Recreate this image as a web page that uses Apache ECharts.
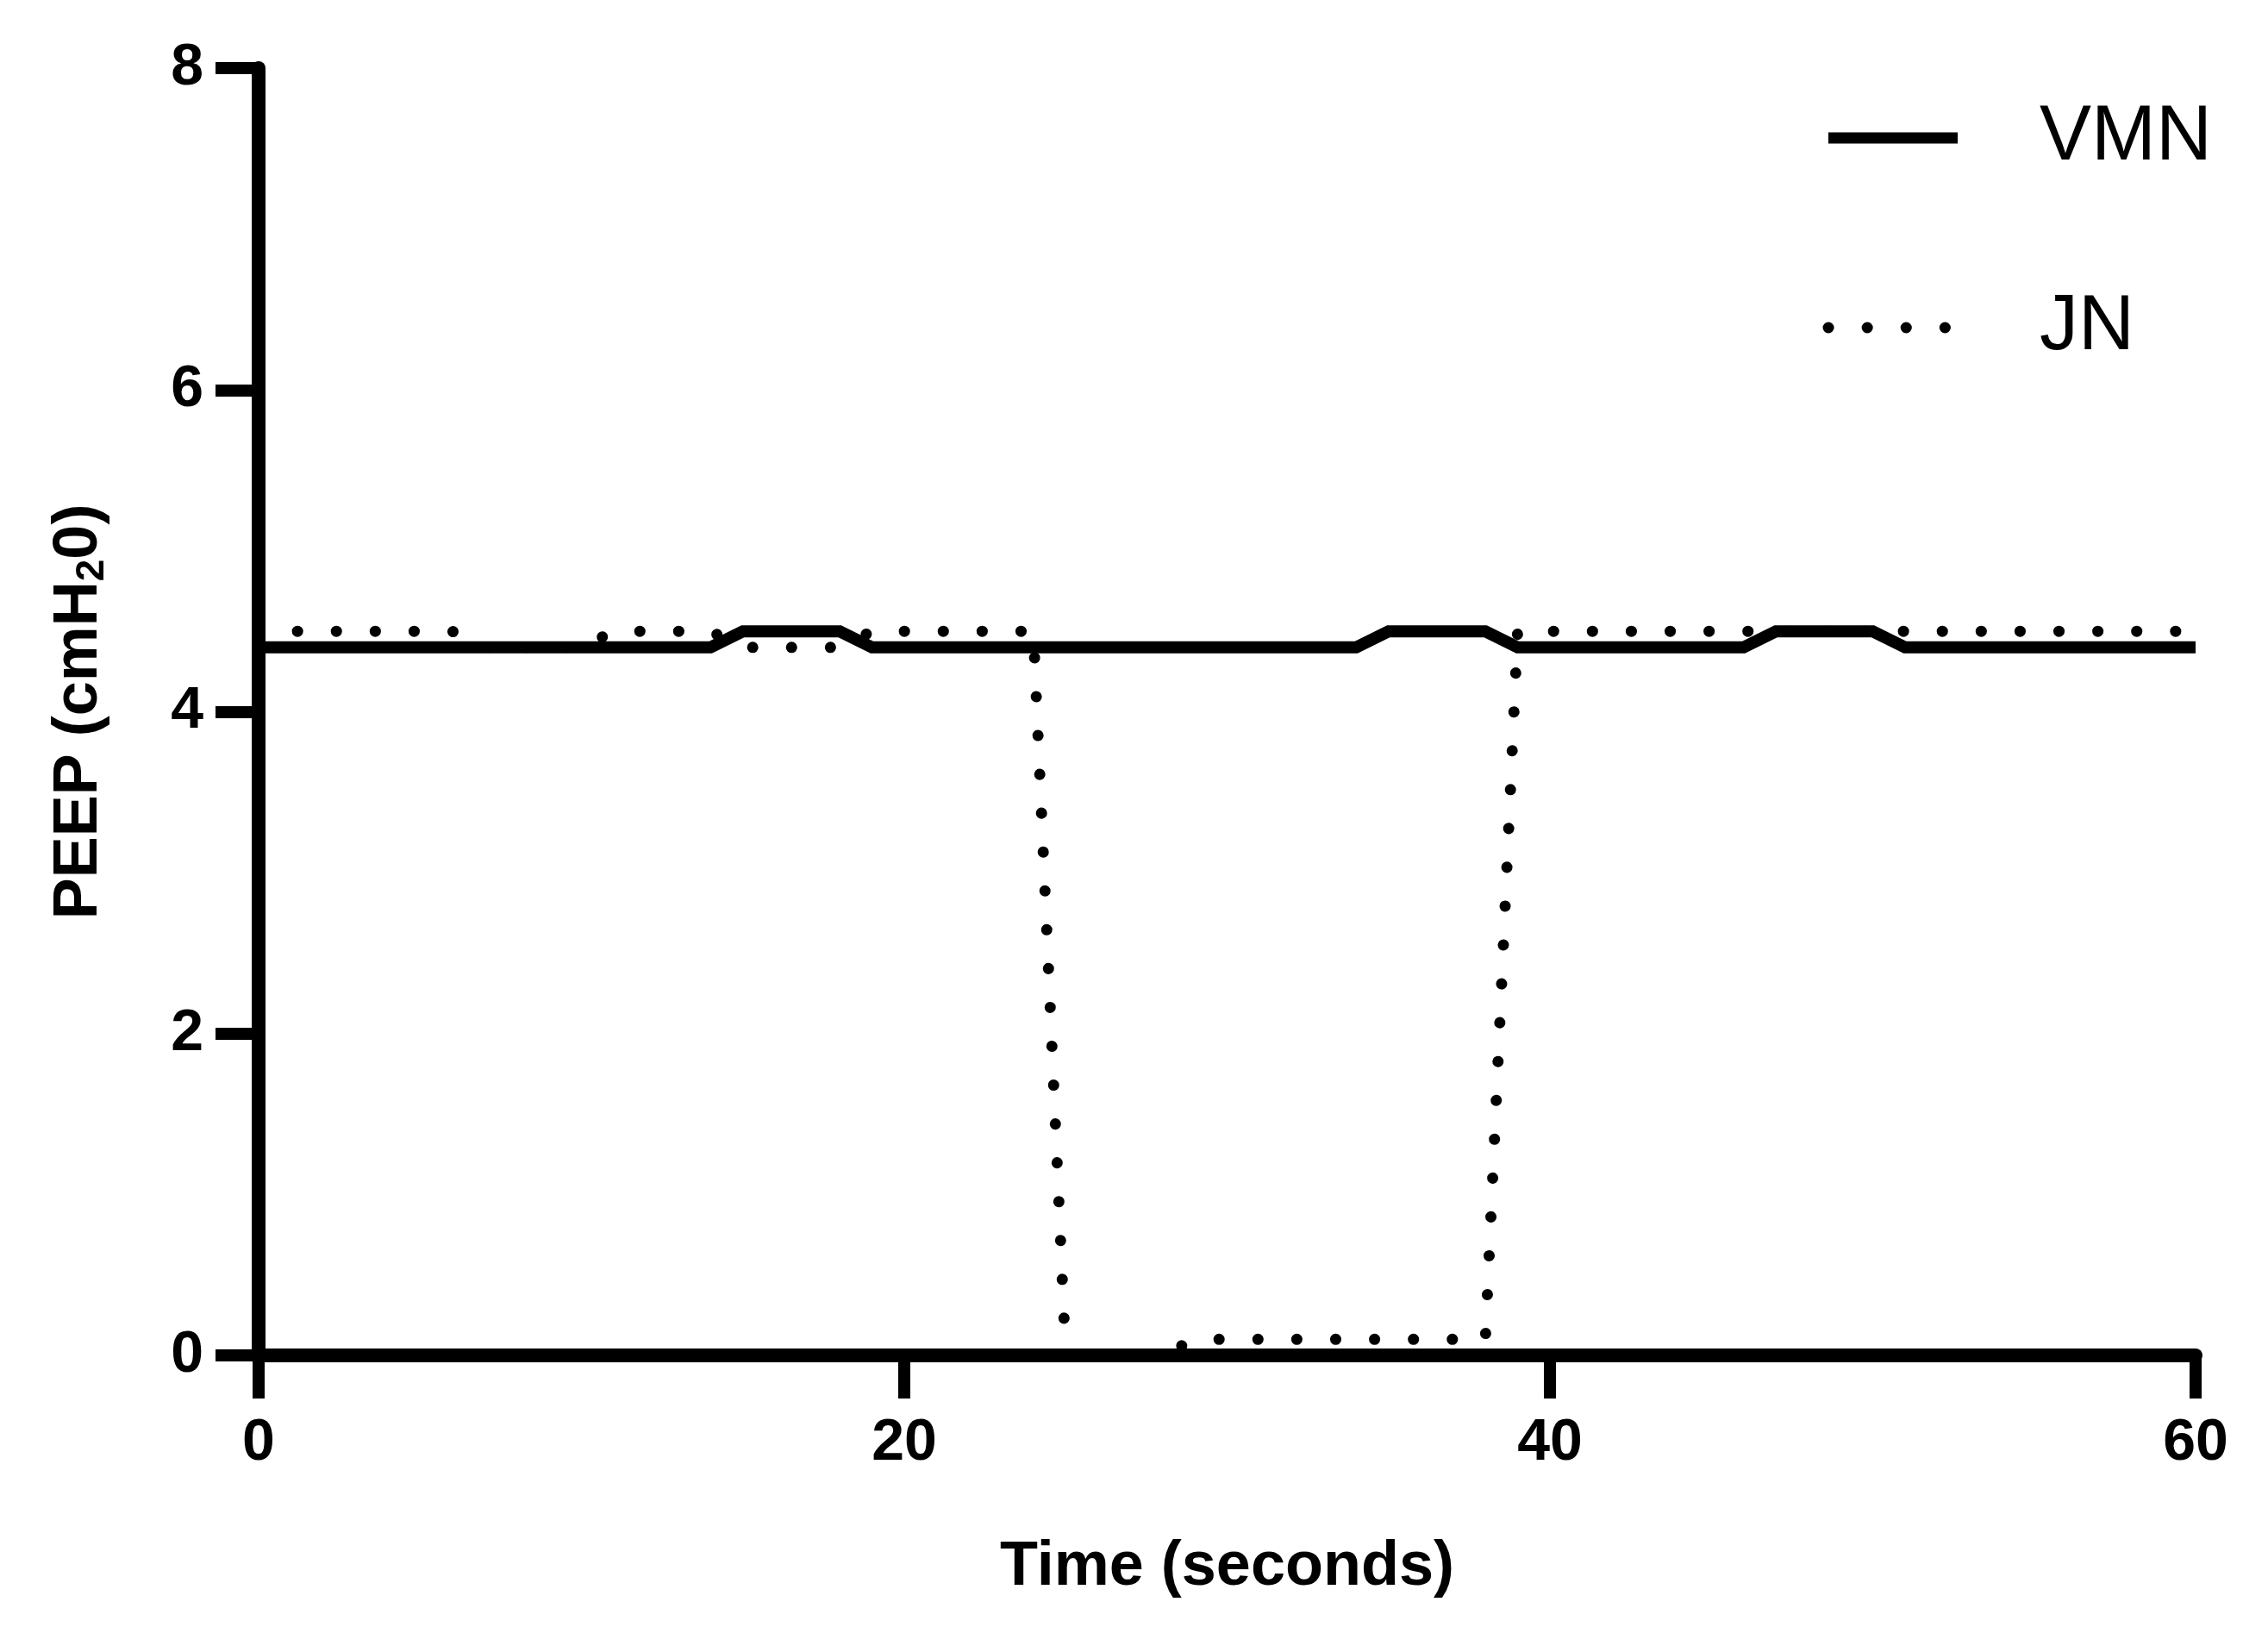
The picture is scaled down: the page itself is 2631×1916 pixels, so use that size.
<!DOCTYPE html>
<html>
<head>
<meta charset="utf-8">
<script src="https://cdn.jsdelivr.net/npm/echarts@6/dist/echarts.min.js"></script>
<style>html,body{margin:0;background:#fff}#c{width:2631px;height:1916px}</style>
</head>
<body>
<div id="c"></div>
<script>
// values: [seconds, cmH2O]
const vmnData = [[0, 4.4], [14, 4.4], [15, 4.5], [18, 4.5], [19, 4.4], [34, 4.4], [35, 4.5], [38, 4.5],
  [39, 4.4], [46, 4.4], [47, 4.5], [50, 4.5], [51, 4.4], [60, 4.4]];
const jnData = [[0, 4.5], [6, 4.5], [7, 4.4], [10, 4.4], [11, 4.5], [14, 4.5], [15, 4.4], [18, 4.4],
  [19, 4.5], [24, 4.5], [25, 0], [28, 0], [29, 0.1], [38, 0.1], [39, 4.5], [60, 4.5]];
const xTicks = [0, 20, 40, 60];
const yTicks = [0, 2, 4, 6, 8];

const chart = echarts.init(document.getElementById('c'));
const bold = { fontFamily: 'Liberation Sans', fontWeight: 'bold', color: '#000' };

chart.setOption({
  animation: false,
  backgroundColor: '#fff',
  color: ['#000', '#000'],
  grid: { left: 300, right: 84, top: 79, bottom: 344 },
  legend: {
    orient: 'vertical', right: 60, top: 110, itemWidth: 150, itemHeight: 20, itemGap: 130,
    itemStyle: { opacity: 0 },
    lineStyle: { width: 13 },
    textStyle: { fontFamily: 'Liberation Sans', fontSize: 90, color: '#000', padding: [0, 0, 0, 90] },
    data: ['VMN', 'JN']
  },
  xAxis: {
    type: 'value', min: 0, max: 60, interval: 20,
    name: 'Time (seconds)', nameLocation: 'middle', nameGap: 210,
    nameTextStyle: { ...bold, fontSize: 72 },
    axisLine: { lineStyle: { color: '#000', width: 16 } },
    axisTick: { inside: false, length: 50, lineStyle: { width: 14, color: '#000' } },
    axisLabel: { ...bold, fontSize: 68, margin: 68, formatter: v => xTicks.includes(v) ? String(v) : '' },
    splitLine: { show: false }
  },
  yAxis: {
    type: 'value', min: 0, max: 8, interval: 2,
    name: '{a|PEEP (cmH}{s|2}{a|0)}', nameLocation: 'middle', nameGap: 170,
    nameTextStyle: { rich: { a: { ...bold, fontSize: 72 }, s: { ...bold, fontSize: 46, padding: [30, 0, 0, 0] } } },
    axisLine: { lineStyle: { color: '#000', width: 16 } },
    axisTick: { inside: false, length: 50, lineStyle: { width: 14, color: '#000' } },
    axisLabel: { ...bold, fontSize: 68, margin: 64, formatter: v => yTicks.includes(v) ? String(v) : '' },
    splitLine: { show: false }
  },
  series: [
    {
      name: 'VMN', type: 'line', data: vmnData, symbol: 'none', z: 3,
      lineStyle: { color: '#000', width: 14, join: 'miter' }
    },
    {
      name: 'JN', type: 'line', data: jnData, symbol: 'none', z: 2,
      lineStyle: { color: '#000', width: 13, type: [0.1, 45], cap: 'round' }
    }
  ]
});
</script>
</body>
</html>
